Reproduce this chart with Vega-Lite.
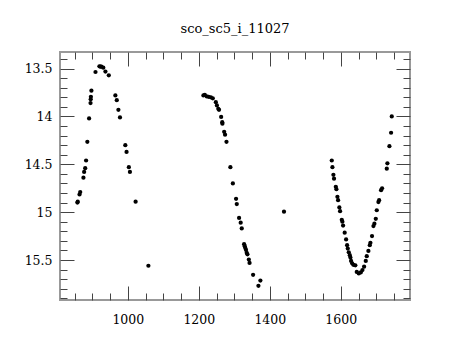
{
  "$schema": "https://vega.github.io/schema/vega-lite/v6.json",
  "width": 350,
  "height": 248,
  "autosize": "none",
  "padding": {"left": 60, "top": 52, "right": 50, "bottom": 40},
  "background": "white",
  "title": {"text": "sco_sc5_i_11027", "font": "DejaVu Serif", "fontSize": 13, "fontWeight": "normal", "color": "black", "anchor": "middle", "offset": 16},
  "config": {
    "view": {"stroke": "#999", "strokeWidth": 2},
    "axis": {"domain": false, "grid": false, "labelFont": "DejaVu Serif", "labelFontSize": 12.5, "labelColor": "black", "tickColor": "#444", "tickWidth": 1, "title": null}
  },
  "data": {"values": [
    {"hjd": 858, "mag": 14.90}, {"hjd": 859, "mag": 14.89}, {"hjd": 864, "mag": 14.815}, {"hjd": 866, "mag": 14.79},
    {"hjd": 875, "mag": 14.64}, {"hjd": 877, "mag": 14.58}, {"hjd": 880, "mag": 14.54}, {"hjd": 882.5, "mag": 14.46},
    {"hjd": 886, "mag": 14.265}, {"hjd": 891, "mag": 14.02}, {"hjd": 895, "mag": 13.86}, {"hjd": 895.5, "mag": 13.82},
    {"hjd": 896, "mag": 13.795}, {"hjd": 897.5, "mag": 13.73}, {"hjd": 909, "mag": 13.535}, {"hjd": 920, "mag": 13.476},
    {"hjd": 923, "mag": 13.478}, {"hjd": 925.7, "mag": 13.48}, {"hjd": 931, "mag": 13.49}, {"hjd": 937, "mag": 13.53},
    {"hjd": 946.5, "mag": 13.57}, {"hjd": 965, "mag": 13.78}, {"hjd": 969, "mag": 13.83}, {"hjd": 973.5, "mag": 13.93},
    {"hjd": 978, "mag": 14.01}, {"hjd": 993, "mag": 14.30}, {"hjd": 996.5, "mag": 14.37}, {"hjd": 1003, "mag": 14.53},
    {"hjd": 1006, "mag": 14.58}, {"hjd": 1022, "mag": 14.89}, {"hjd": 1058, "mag": 15.56},
    {"hjd": 1213, "mag": 13.78}, {"hjd": 1217, "mag": 13.775}, {"hjd": 1222.5, "mag": 13.79}, {"hjd": 1228, "mag": 13.795},
    {"hjd": 1234, "mag": 13.80}, {"hjd": 1239.5, "mag": 13.81}, {"hjd": 1248, "mag": 13.85}, {"hjd": 1251, "mag": 13.885},
    {"hjd": 1255, "mag": 13.92}, {"hjd": 1257, "mag": 13.93}, {"hjd": 1263, "mag": 14.005}, {"hjd": 1266, "mag": 14.06},
    {"hjd": 1266.5, "mag": 14.075}, {"hjd": 1271.5, "mag": 14.16}, {"hjd": 1274, "mag": 14.19}, {"hjd": 1278, "mag": 14.265},
    {"hjd": 1289, "mag": 14.53}, {"hjd": 1296, "mag": 14.70}, {"hjd": 1305, "mag": 14.86}, {"hjd": 1307, "mag": 14.915},
    {"hjd": 1313.5, "mag": 15.06}, {"hjd": 1318, "mag": 15.11}, {"hjd": 1321, "mag": 15.17}, {"hjd": 1327.6, "mag": 15.335},
    {"hjd": 1329.5, "mag": 15.355}, {"hjd": 1331, "mag": 15.375}, {"hjd": 1333, "mag": 15.395}, {"hjd": 1335, "mag": 15.425},
    {"hjd": 1337, "mag": 15.44}, {"hjd": 1341, "mag": 15.495}, {"hjd": 1343, "mag": 15.53}, {"hjd": 1353, "mag": 15.655},
    {"hjd": 1368, "mag": 15.77}, {"hjd": 1373.5, "mag": 15.715}, {"hjd": 1440, "mag": 14.995},
    {"hjd": 1574.6, "mag": 14.46}, {"hjd": 1576.4, "mag": 14.53}, {"hjd": 1579.2, "mag": 14.61}, {"hjd": 1581, "mag": 14.65},
    {"hjd": 1586, "mag": 14.735}, {"hjd": 1587.7, "mag": 14.76}, {"hjd": 1590.5, "mag": 14.84}, {"hjd": 1592.4, "mag": 14.875},
    {"hjd": 1596, "mag": 14.95}, {"hjd": 1598, "mag": 14.99}, {"hjd": 1602.8, "mag": 15.08}, {"hjd": 1604.5, "mag": 15.10},
    {"hjd": 1606.5, "mag": 15.14}, {"hjd": 1611, "mag": 15.215}, {"hjd": 1615, "mag": 15.285}, {"hjd": 1617.8, "mag": 15.345},
    {"hjd": 1619.7, "mag": 15.38}, {"hjd": 1622.5, "mag": 15.42}, {"hjd": 1625.4, "mag": 15.45}, {"hjd": 1627.2, "mag": 15.475},
    {"hjd": 1629, "mag": 15.51}, {"hjd": 1632, "mag": 15.535}, {"hjd": 1635.5, "mag": 15.55}, {"hjd": 1641, "mag": 15.555},
    {"hjd": 1645, "mag": 15.625}, {"hjd": 1650.7, "mag": 15.64}, {"hjd": 1656.3, "mag": 15.63}, {"hjd": 1661, "mag": 15.605},
    {"hjd": 1665.7, "mag": 15.57}, {"hjd": 1670.4, "mag": 15.51}, {"hjd": 1673.2, "mag": 15.46}, {"hjd": 1677.8, "mag": 15.405},
    {"hjd": 1681.7, "mag": 15.345}, {"hjd": 1683.5, "mag": 15.32}, {"hjd": 1688, "mag": 15.25}, {"hjd": 1692, "mag": 15.145},
    {"hjd": 1694.7, "mag": 15.12}, {"hjd": 1698.6, "mag": 15.07}, {"hjd": 1701.4, "mag": 14.98}, {"hjd": 1706, "mag": 14.895},
    {"hjd": 1708, "mag": 14.875}, {"hjd": 1713.5, "mag": 14.77}, {"hjd": 1716.4, "mag": 14.75}, {"hjd": 1729.6, "mag": 14.545},
    {"hjd": 1731.3, "mag": 14.49}, {"hjd": 1737, "mag": 14.31}, {"hjd": 1741.7, "mag": 14.17}, {"hjd": 1743.6, "mag": 14.0}
  ]},
  "resolve": {"axis": {"x": "independent", "y": "independent"}},
  "layer": [
    {
      "mark": {"type": "circle", "size": 18, "color": "black", "opacity": 1},
      "encoding": {
        "x": {"field": "hjd", "type": "quantitative", "scale": {"domain": [809, 1795], "nice": false, "zero": false},
              "axis": {"orient": "bottom", "ticks": false, "labels": true, "values": [1000, 1200, 1400, 1600], "labelPadding": 13, "format": "d"}},
        "y": {"field": "mag", "type": "quantitative", "scale": {"domain": [13.326, 15.918], "nice": false, "zero": false, "reverse": true},
              "axis": {"orient": "left", "ticks": false, "labels": true, "values": [13.5, 14, 14.5, 15, 15.5], "labelPadding": 8, "labelExpr": "format(datum.value, '~g')"}}
      }
    },
    {
      "mark": {"type": "circle", "size": 18, "opacity": 0},
      "encoding": {
        "x": {"field": "hjd", "type": "quantitative", "scale": {"domain": [809, 1795], "nice": false, "zero": false},
              "axis": {"orient": "bottom", "labels": false, "values": [1000, 1200, 1400, 1600], "tickSize": -14}},
        "y": {"field": "mag", "type": "quantitative", "scale": {"domain": [13.326, 15.918], "nice": false, "zero": false, "reverse": true},
              "axis": {"orient": "left", "labels": false, "values": [13.5, 14, 14.5, 15, 15.5], "tickSize": -14}}
      }
    },
    {
      "mark": {"type": "circle", "size": 18, "opacity": 0},
      "encoding": {
        "x": {"field": "hjd", "type": "quantitative", "scale": {"domain": [809, 1795], "nice": false, "zero": false},
              "axis": {"orient": "bottom", "labels": false, "values": [850, 900, 950, 1050, 1100, 1150, 1250, 1300, 1350, 1450, 1500, 1550, 1650, 1700, 1750], "tickSize": -7}},
        "y": {"field": "mag", "type": "quantitative", "scale": {"domain": [13.326, 15.918], "nice": false, "zero": false, "reverse": true},
              "axis": {"orient": "left", "labels": false, "values": [13.4, 13.6, 13.7, 13.8, 13.9, 14.1, 14.2, 14.3, 14.4, 14.6, 14.7, 14.8, 14.9, 15.1, 15.2, 15.3, 15.4, 15.6, 15.7, 15.8, 15.9], "tickSize": -7}}
      }
    },
    {
      "mark": {"type": "circle", "size": 18, "opacity": 0},
      "encoding": {
        "x": {"field": "hjd", "type": "quantitative", "scale": {"domain": [809, 1795], "nice": false, "zero": false},
              "axis": {"orient": "top", "labels": false, "values": [1000, 1200, 1400, 1600], "tickSize": -14}},
        "y": {"field": "mag", "type": "quantitative", "scale": {"domain": [13.326, 15.918], "nice": false, "zero": false, "reverse": true},
              "axis": {"orient": "right", "labels": false, "values": [13.5, 14, 14.5, 15, 15.5], "tickSize": -14}}
      }
    },
    {
      "mark": {"type": "circle", "size": 18, "opacity": 0},
      "encoding": {
        "x": {"field": "hjd", "type": "quantitative", "scale": {"domain": [809, 1795], "nice": false, "zero": false},
              "axis": {"orient": "top", "labels": false, "values": [850, 900, 950, 1050, 1100, 1150, 1250, 1300, 1350, 1450, 1500, 1550, 1650, 1700, 1750], "tickSize": -7}},
        "y": {"field": "mag", "type": "quantitative", "scale": {"domain": [13.326, 15.918], "nice": false, "zero": false, "reverse": true},
              "axis": {"orient": "right", "labels": false, "values": [13.4, 13.6, 13.7, 13.8, 13.9, 14.1, 14.2, 14.3, 14.4, 14.6, 14.7, 14.8, 14.9, 15.1, 15.2, 15.3, 15.4, 15.6, 15.7, 15.8, 15.9], "tickSize": -7}}
      }
    }
  ]
}
